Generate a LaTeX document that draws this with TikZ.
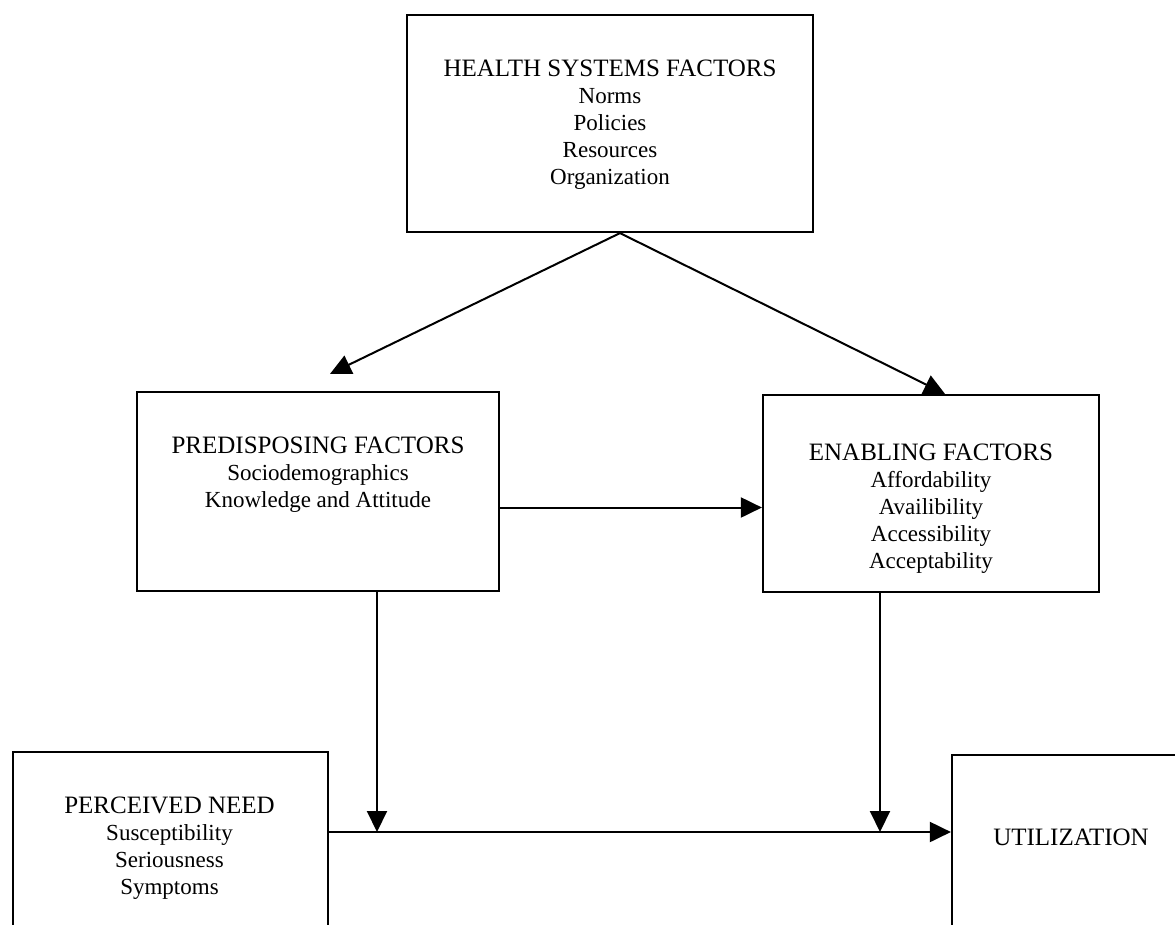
\documentclass[tikz,border=0pt]{standalone}
\usepackage{fontspec}
\setmainfont{Liberation Serif}
\usetikzlibrary{arrows.meta, positioning, calc}

\newcommand{\factorhead}[1]{{\fontsize{25}{27}\selectfont #1}}

\begin{document}
\begin{tikzpicture}[
  x=1pt, y=-1pt,
  factorbox/.style={draw=black, line width=2.2pt, inner sep=0pt},
  factortext/.style={align=center, anchor=north, inner sep=0pt,
                     font=\fontsize{23}{27}\selectfont},
  flow/.style={line width=2pt, -{Triangle[length=21pt, width=20pt]}}
]
\useasboundingbox (0,0) rectangle (1175,924);
\clip (0,0) rectangle (1175,924);

% boxes
\node[factorbox, minimum width=406pt, minimum height=217pt] (hsf)  at (610,123.5) {};
\node[factorbox, minimum width=362pt, minimum height=199pt] (pre)  at (318,491.5) {};
\node[factorbox, minimum width=336pt, minimum height=197pt] (enab) at (931,493.5) {};
\node[factorbox, minimum width=315pt, minimum height=208pt] (need) at (170.5,856) {};
\node[factorbox, minimum width=238pt, minimum height=205pt] (util) at (1071,857.5) {};

% texts
\node[factortext] (hsf-txt) at (610,60) {%
  \factorhead{HEALTH SYSTEMS FACTORS}\\ Norms\\ Policies\\ Resources\\ Organization};
\node[factortext] (pre-txt) at (318,437) {%
  \factorhead{PREDISPOSING FACTORS}\\ Sociodemographics\\ Knowledge and Attitude};
\node[factortext] (enab-txt) at (931,444) {%
  \factorhead{ENABLING FACTORS}\\ Affordability\\ Availibility\\ Accessibility\\ Acceptability};
\node[factortext] (need-txt) at (169.5,797) {%
  \factorhead{PERCEIVED NEED}\\ Susceptibility\\ Seriousness\\ Symptoms};
\node[factortext] (util-txt) at (1071,829) {\factorhead{UTILIZATION}};

% connectors
\coordinate (hsf-out) at ([xshift=10pt]hsf.south);
\coordinate (pre-in) at ([shift={(12pt,17pt)}]pre.north);
\coordinate (need-out) at ([yshift=24pt]need.east);
\draw[flow] (hsf-out) -- (pre-in);
\draw[flow] (hsf-out) -- ([xshift=14pt]enab.north);
\draw[flow] ([yshift=-16pt]pre.east) -- ([yshift=-16pt]pre.east -| enab.west);
\draw[flow] (need-out) -- (need-out -| util.west);
\draw[flow] ([xshift=59pt]pre.south) -- ([xshift=59pt]pre.south |- need-out);
\draw[flow] ([xshift=-51pt]enab.south) -- ([xshift=-51pt]enab.south |- need-out);
\end{tikzpicture}
\end{document}
